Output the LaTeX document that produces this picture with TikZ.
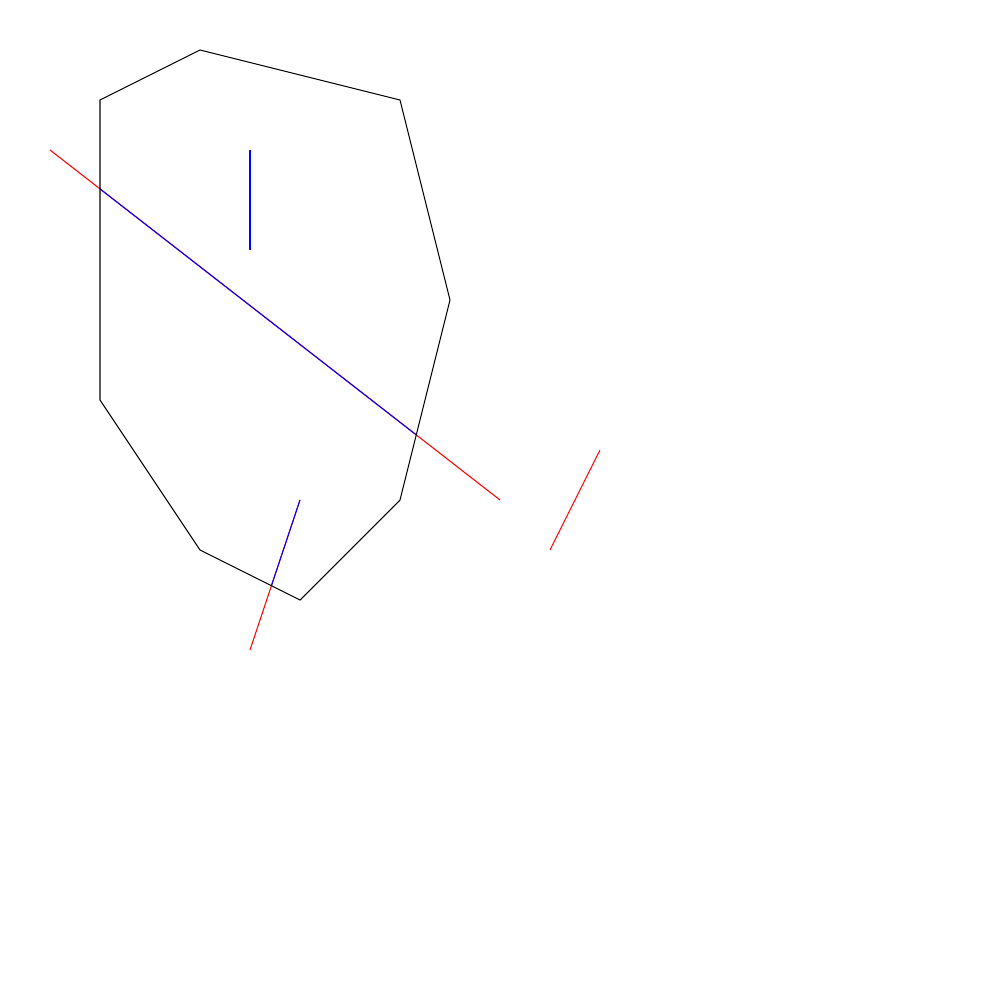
\documentclass[tikz,border=0pt]{standalone}
\usepackage{tikz}

\begin{document}
\begin{tikzpicture}[
  x=0.1mm, y=-0.1mm,
  poly/.style={draw=black, line width=0.3pt},
  outseg/.style={draw=red, line width=0.3pt},
  inseg/.style={draw=blue, line width=0.3pt}
]
  \useasboundingbox (0,0) rectangle (1000,1000);

  % clipping window
  \coordinate (p1) at (200,50);
  \coordinate (p2) at (400,100);
  \coordinate (p3) at (450,300);
  \coordinate (p4) at (400,500);
  \coordinate (p5) at (300,600);
  \coordinate (p6) at (200,550);
  \coordinate (p7) at (100,400);
  \coordinate (p8) at (100,100);

  % segments
  \coordinate (a1) at (50,150);  \coordinate (a2) at (500,500);
  \coordinate (b1) at (250,150); \coordinate (b2) at (250,250);
  \coordinate (c1) at (300,500); \coordinate (c2) at (250,650);
  \coordinate (d1) at (600,450); \coordinate (d2) at (550,550);

  \draw[outseg] (a1) -- (a2);
  \draw[outseg] (b1) -- (b2);
  \draw[outseg] (c1) -- (c2);
  \draw[outseg] (d1) -- (d2);

  % parts inside the window
  \begin{scope}
    \clip (p1) -- (p2) -- (p3) -- (p4) -- (p5) -- (p6) -- (p7) -- (p8) -- cycle;
    \draw[inseg] (a1) -- (a2);
    \draw[inseg] (b1) -- (b2);
    \draw[inseg] (c1) -- (c2);
    \draw[inseg] (d1) -- (d2);
  \end{scope}

  \draw[poly] (p1) -- (p2) -- (p3) -- (p4) -- (p5) -- (p6) -- (p7) -- (p8) -- cycle;
\end{tikzpicture}
\end{document}
